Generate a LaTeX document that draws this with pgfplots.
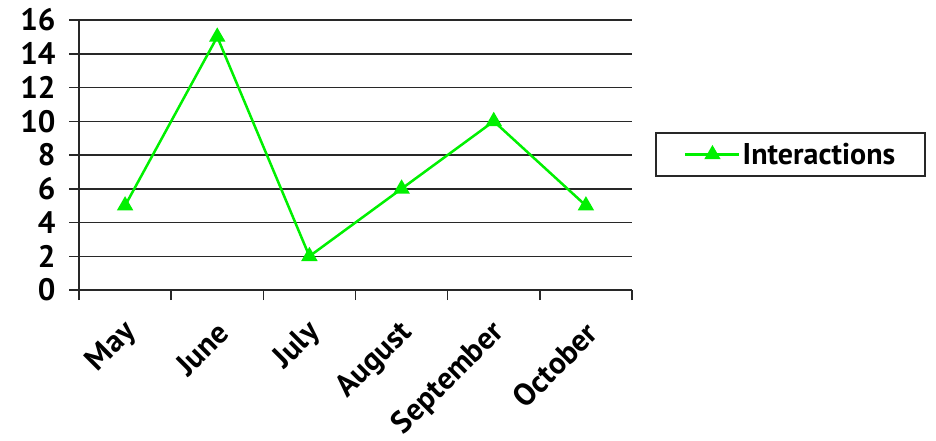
\documentclass[border=0pt]{standalone}
\usepackage{fontspec}
\setmainfont{PT Sans}
\usepackage{pgfplots}
\pgfplotsset{compat=1.18}
\definecolor{lgreen}{RGB}{0,240,0}
\definecolor{gridc}{RGB}{40,40,40}
\begin{document}
\begin{tikzpicture}
\path[use as bounding box] (0,0) rectangle (936pt,440pt);
\begin{axis}[
    at={(79pt,150pt)}, anchor=south west,
    scale only axis, width=553pt, height=270pt,
    xmin=-0.5, xmax=5.5, ymin=0, ymax=16,
    axis x line*=bottom, axis y line*=left,
    axis line style={gridc, line width=1.5pt},
    ytick={0,2,...,16},
    ymajorgrids, major grid style={gridc, line width=1.5pt},
    tick align=outside, major tick length=10pt,
    tick style={gridc, line width=1.5pt},
    xtick={-0.5,0.5,...,5.5}, xticklabels={},
    extra x ticks={0,1,2,3,4,5},
    extra x tick labels={May,June,July,August,September,October},
    extra x tick style={tick style={draw=none}},
    /pgf/number format/assume math mode=true,
    yticklabel style={font=\fontsize{31}{34}\selectfont\bfseries, xshift=-10pt},
    xticklabel style={font=\fontsize{31}{35}\selectfont\bfseries, rotate=45, anchor=east, yshift=-24pt, xshift=-12pt},
    legend style={at={(1.5316,0.502)}, anchor=east, draw=gridc, line width=1.5pt,
        font=\fontsize{30}{34}\selectfont\bfseries, inner xsep=28pt, inner ysep=8pt},
    legend image code/.code={\draw[mark repeat=2,mark phase=2,#1] plot coordinates {(0pt,0pt)(27pt,0pt)(54pt,0pt)};},
    clip=false,
]
\addplot[lgreen, line width=2.5pt, mark=triangle*, mark size=7pt, mark options={solid}]
    coordinates {(0,5) (1,15) (2,2) (3,6) (4,10) (5,5)};
\addlegendentry{Interactions}
\end{axis}
\end{tikzpicture}
\end{document}
